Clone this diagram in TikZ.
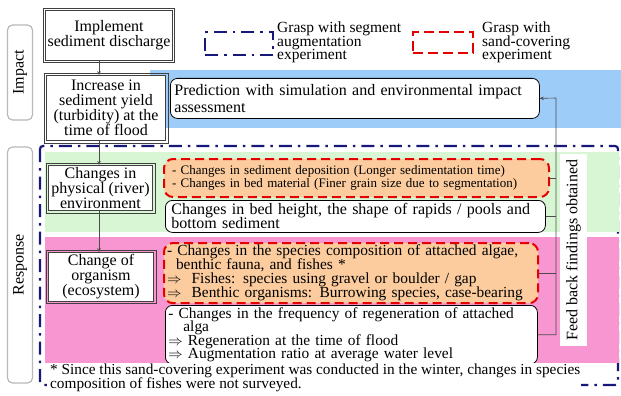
\documentclass[tikz,border=0pt]{standalone}
\usepackage{fontspec}
\setmainfont{Liberation Serif}
\usetikzlibrary{arrows.meta,positioning,calc}
\definecolor{bandblue}{RGB}{158,204,248}
\definecolor{bandgreen}{RGB}{216,246,212}
\definecolor{bandpink}{RGB}{247,150,208}
\definecolor{peach}{RGB}{252,204,158}
\definecolor{navy}{RGB}{22,24,122}
\newcommand{\setfs}[2]{\fontsize{#1}{#2}\selectfont\lineskiplimit=-20pt}

\begin{document}
\begin{tikzpicture}[x=1pt,y=-1pt,>={Stealth[length=4pt,width=3.5pt]},
  every node/.style={inner sep=2pt,font=\setfs{16}{15}},
  sidelab/.style={draw=gray!55,line width=1.2pt,rounded corners=5pt,rotate=90,minimum height=25},
  stagebox/.style={draw=black!75,line width=0.8pt,fill=white,align=center},
  sandbox/.style={draw=red!90!black,fill=peach,line width=2pt,dash pattern=on 9pt off 5pt,rounded corners=9pt,anchor=north west,align=left},
  findbox/.style={draw,fill=white,line width=0.8pt,rounded corners=7pt,anchor=north west,align=left},
  segline/.style={draw=navy,line width=2.2pt,dash pattern=on 13pt off 6pt on 2.5pt off 6pt},
  link/.style={draw=black!70,line width=0.6pt}]
  \useasboundingbox (0,0) rectangle (621,396);
  % background bands
  \draw[segline,rounded corners=3pt] (40,146) rectangle (618,385);
  \fill[bandblue] (150,70) rectangle (621,128);
  \fill[bandgreen] (45,152) rectangle (619,232);
  \fill[bandpink] (45,237) rectangle (619,363);
  % side labels
  \node[sidelab,minimum width=95] (impact) at (20,72.5) {Impact};
  \node[sidelab,minimum width=236] (resp) at (20,265) {Response};
  % legend
  \node[segline,minimum width=68,minimum height=23] (segkey) at (239,43.5) {};
  \node[anchor=north west,align=left,inner sep=0pt,font=\setfs{15.5}{13.2}] (segtxt) at (277,22) {Grasp with segment\\augmentation\\experiment};
  \node[draw=red!90!black,line width=2.4pt,dash pattern=on 10pt off 5pt,minimum width=60,minimum height=21] (sandkey) at (443,42.5) {};
  \node[anchor=north west,align=left,inner sep=0pt,font=\setfs{15.5}{13.2}] (sandtxt) at (482,22) {Grasp with\\sand-covering\\experiment};
  % stages
  \node[stagebox,minimum width=125,minimum height=50] (impl) at (109,35.5) {Implement\\sediment discharge};
  \node[stagebox,minimum width=119,minimum height=65] (incr) at (106,108) {Increase in\\sediment yield\\(turbidity) at the\\time of flood};
  \node[stagebox,minimum width=104,minimum height=45] (phys) at (100.5,188) {Changes in\\physical (river)\\environment};
  \node[stagebox,minimum width=105,minimum height=45] (orgn) at (101,277) {Change of\\organism\\(ecosystem)};
  \foreach \n in {impl,incr,phys,orgn}
    \draw[black!75,line width=0.8pt] ([xshift=-2pt,yshift=2pt]\n.north west) rectangle ([xshift=2pt,yshift=-2pt]\n.south east);
  \draw[link,->] (impl.south -| 99,0) -- (incr.north -| 99,0);
  \draw[link,->] (incr.south -| 99,0) -- (phys.north -| 99,0);
  \draw[link,->] (phys.south -| 99,0) -- (orgn.north -| 99,0);
  % findings
  \node[findbox,text width=361pt,minimum height=40,inner xsep=4pt,font=\setfs{16}{17}] (pred) at (170,78) {Prediction with simulation and environmental impact\\assessment};
  \node[sandbox,text width=369pt,minimum height=38,inner xsep=8pt,font=\setfs{13}{13}] (or1) at (163,158) {- Changes in sediment deposition (Longer sedimentation time)\\- Changes in bed material (Finer grain size due to segmentation)};
  \node[findbox,text width=368pt,minimum height=32,inner xsep=6pt,font=\setfs{16}{14}] (wb1) at (165,200) {Changes in bed height, the shape of rapids / pools and\\bottom sediment};
  \node[sandbox,text width=368pt,minimum height=60,inner xsep=3pt,font=\setfs{15.4}{14}] (or2) at (163,242) {- Changes in the species composition of attached algae,\\\hspace*{9pt}benthic fauna, and fishes *\\$\Rightarrow$\ \ Fishes: species using gravel or boulder / gap\\$\Rightarrow$\ \ Benthic organisms: Burrowing species, case-bearing};
  \node[findbox,text width=366pt,minimum height=57,inner xsep=3pt,font=\setfs{15.4}{13.5}] (wb2) at (165,305) {- Changes in the frequency of regeneration of attached\\\hspace*{15pt}alga\\$\Rightarrow$ Regeneration at the time of flood\\$\Rightarrow$ Augmentation ratio at average water level};
  % feed back
  \coordinate (fb) at (556,98);
  \draw[link,->] (wb2.east) -| (fb) -- (pred.east);
  \foreach \b in {or1,wb1,or2} \draw[link] (\b.east) -- (\b.east -| fb);
  \node[fill=white,rotate=90,minimum width=192,minimum height=27,inner sep=0pt] (fbtxt) at (573.5,250) {Feed back findings obtained};
  \node[fill=white,anchor=north west,align=left,inner sep=1pt,font=\setfs{15.3}{13.5}] (note) at (49,363) {* Since this sand-covering experiment was conducted in the winter, changes in species\\composition of fishes were not surveyed.};
\end{tikzpicture}
\end{document}
